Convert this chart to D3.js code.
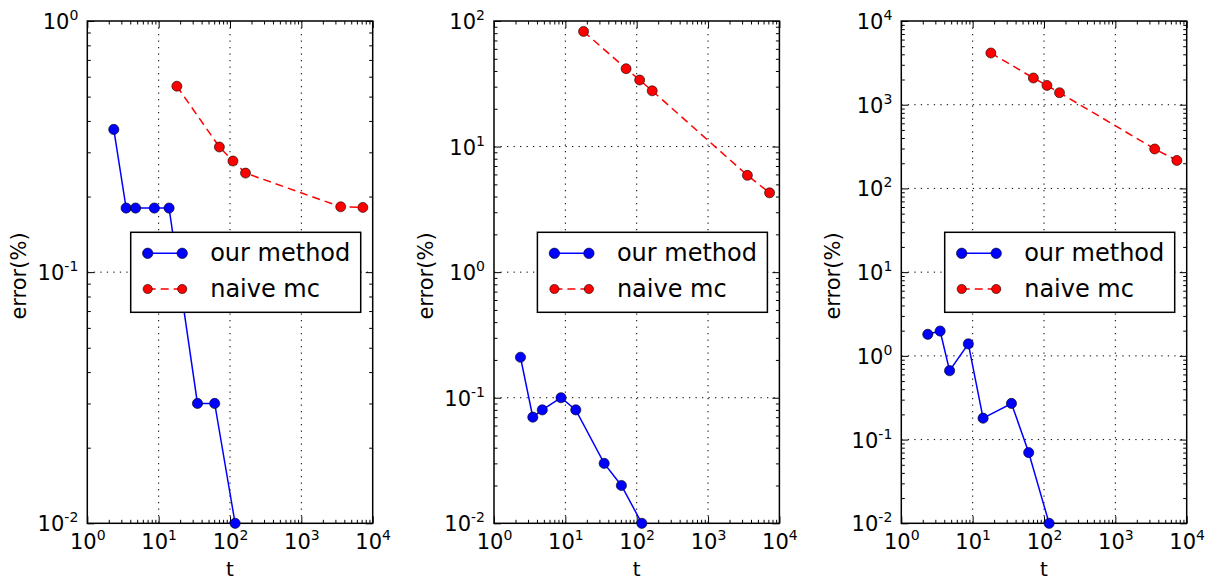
<!DOCTYPE html>
<html>
<head>
<meta charset="utf-8">
<script src="https://cdn.jsdelivr.net/npm/d3@7"></script>
<style>
  html, body { margin: 0; padding: 0; background: #fff; }
  svg { display: block; }
  text { font-family: "DejaVu Sans", sans-serif; fill: #000; }
</style>
</head>
<body>
<svg id="chart" width="1209" height="582"></svg>
<script>
// ---- data ----
const tOurs  = [2.35, 3.5, 4.75, 8.7, 14, 35, 61, 118];
const tNaive = [18, 71, 110, 165, 3560, 7280];

const oursP1  = [0.37, 0.18, 0.18, 0.18, 0.18, 0.03, 0.03, 0.01];
const naiveP1 = [0.55, 0.315, 0.277, 0.248, 0.182, 0.181];

const oursP2  = [0.21, 0.07, 0.08, 0.10, 0.08, 0.03, 0.02, 0.01];
const naiveP2 = [82.6, 41.7, 33.9, 27.8, 5.9, 4.28];

const oursP3  = [1.81, 1.98, 0.665, 1.39, 0.18, 0.27, 0.07, 0.01];
const naiveP3 = [4150, 2085, 1700, 1390, 296, 216];

const xTickExps = [0, 1, 2, 3, 4];
const yTickExpsP1 = [-2, -1, 0];
const yTickExpsP2 = [-2, -1, 0, 1, 2];
const yTickExpsP3 = [-2, -1, 0, 1, 2, 3, 4];

const seriesNames = ["our method", "naive mc"];
const xLabel = "t";
const yLabel = "error(%)";

const panels = [
  { left: 87.3,  ours: oursP1, naive: naiveP1, yExps: yTickExpsP1 },
  { left: 494,   ours: oursP2, naive: naiveP2, yExps: yTickExpsP2 },
  { left: 901.3, ours: oursP3, naive: naiveP3, yExps: yTickExpsP3 }
];

// ---- layout ----
const W = 285.4, plotTop = 21, plotBottom = 523.3;
const svg = d3.select("#chart");

function minorVals(e0, e1) {
  const v = [];
  for (let e = e0; e < e1; e++) for (let k = 2; k <= 9; k++) v.push(k * Math.pow(10, e));
  return v;
}

function powLabel(sel) {
  sel.each(function(d) {
    const t = d3.select(this);
    const e = Math.round(Math.log10(d));
    t.text(null);
    t.append("tspan").text("10");
    t.append("tspan").attr("font-size", 14).attr("dy", -9).text(String(e));
  });
}

panels.forEach((p, i) => {
  const g = svg.append("g");
  const x = d3.scaleLog().domain([1, 1e4]).range([p.left, p.left + W]);
  const yE0 = p.yExps[0], yE1 = p.yExps[p.yExps.length - 1];
  const y = d3.scaleLog().domain([Math.pow(10, yE0), Math.pow(10, yE1)]).range([plotBottom, plotTop]);

  const xMajor = xTickExps.map(e => Math.pow(10, e));
  const yMajor = p.yExps.map(e => Math.pow(10, e));
  const xMinor = minorVals(0, 4);
  const yMinor = minorVals(yE0, yE1);

  // grid
  const grid = g.append("g").attr("stroke", "#000").attr("stroke-width", 1)
    .attr("stroke-dasharray", "1.3,5.2").attr("fill", "none");
  grid.selectAll(".gx").data(xMajor.slice(1, -1)).join("line")
    .attr("x1", d => x(d)).attr("x2", d => x(d)).attr("y1", plotTop).attr("y2", plotBottom);
  grid.selectAll(".gy").data(yMajor.slice(1, -1)).join("line")
    .attr("y1", d => y(d)).attr("y2", d => y(d)).attr("x1", p.left).attr("x2", p.left + W);

  // axes (ticks inward)
  function styleAxis(ax) {
    ax.select(".domain").remove();
    ax.selectAll(".tick line").attr("stroke", "#000").attr("stroke-width", 1);
  }
  const majLen = 7, minLen = 3.5;
  const axB = g.append("g").attr("transform", `translate(0,${plotBottom})`)
    .call(d3.axisBottom(x).tickValues(xMajor).tickSizeInner(-majLen).tickSizeOuter(0).tickPadding(0));
  styleAxis(axB);
  axB.attr("font-family", null).attr("font-size", null);
  axB.selectAll(".tick text").attr("font-size", 21).attr("y", 26).attr("dy", null)
    .attr("text-anchor", "middle").call(powLabel);
  g.append("g").attr("transform", `translate(0,${plotBottom})`)
    .call(d3.axisBottom(x).tickValues(xMinor).tickSizeInner(-minLen).tickSizeOuter(0).tickFormat(""))
    .call(styleAxis);
  g.append("g").attr("transform", `translate(0,${plotTop})`)
    .call(d3.axisTop(x).tickValues(xMajor).tickSizeInner(-majLen).tickSizeOuter(0).tickFormat(""))
    .call(styleAxis);
  g.append("g").attr("transform", `translate(0,${plotTop})`)
    .call(d3.axisTop(x).tickValues(xMinor).tickSizeInner(-minLen).tickSizeOuter(0).tickFormat(""))
    .call(styleAxis);

  const axL = g.append("g").attr("transform", `translate(${p.left},0)`)
    .call(d3.axisLeft(y).tickValues(yMajor).tickSizeInner(-majLen).tickSizeOuter(0).tickPadding(0));
  styleAxis(axL);
  axL.attr("font-family", null).attr("font-size", null);
  axL.selectAll(".tick text").attr("font-size", 21).attr("x", -9).attr("dy", null).attr("y", 7.5)
    .attr("text-anchor", "end").call(powLabel);
  g.append("g").attr("transform", `translate(${p.left},0)`)
    .call(d3.axisLeft(y).tickValues(yMinor).tickSizeInner(-minLen).tickSizeOuter(0).tickFormat(""))
    .call(styleAxis);
  g.append("g").attr("transform", `translate(${p.left + W},0)`)
    .call(d3.axisRight(y).tickValues(yMajor).tickSizeInner(-majLen).tickSizeOuter(0).tickFormat(""))
    .call(styleAxis);
  g.append("g").attr("transform", `translate(${p.left + W},0)`)
    .call(d3.axisRight(y).tickValues(yMinor).tickSizeInner(-minLen).tickSizeOuter(0).tickFormat(""))
    .call(styleAxis);

  // frame
  g.append("rect").attr("x", p.left).attr("y", plotTop).attr("width", W).attr("height", plotBottom - plotTop)
    .attr("fill", "none").attr("stroke", "#000").attr("stroke-width", 1.5);

  // series
  const line = d3.line().x(d => x(d[0])).y(d => y(d[1]));
  const ours = tOurs.map((t, k) => [t, p.ours[k]]);
  const naive = tNaive.map((t, k) => [t, p.naive[k]]);

  g.append("path").datum(naive).attr("d", line).attr("fill", "none")
    .attr("stroke", "#ff0000").attr("stroke-width", 1.5).attr("stroke-dasharray", "8,5");
  g.selectAll(".pn").data(naive).join("circle")
    .attr("cx", d => x(d[0])).attr("cy", d => y(d[1])).attr("r", 5)
    .attr("fill", "#ff0000").attr("stroke", "#000").attr("stroke-width", 0.6);

  g.append("path").datum(ours).attr("d", line).attr("fill", "none")
    .attr("stroke", "#0000ff").attr("stroke-width", 1.5);
  g.selectAll(".po").data(ours).join("circle")
    .attr("cx", d => x(d[0])).attr("cy", d => y(d[1])).attr("r", 5.1)
    .attr("fill", "#0000ff").attr("stroke", "#000").attr("stroke-width", 0.6);

  // axis labels
  g.append("text").attr("x", p.left + W / 2).attr("y", 576).attr("text-anchor", "middle")
    .attr("font-size", 20).text(xLabel);
  g.append("text").attr("transform", `translate(${p.left - 61},276) rotate(-90)`)
    .attr("text-anchor", "middle").attr("font-size", 21).text(yLabel);

  // legend
  const lx = p.left + W - 12 - 230, ly = 232.3;
  const lg = g.append("g");
  lg.append("rect").attr("x", lx).attr("y", ly).attr("width", 230).attr("height", 80)
    .attr("fill", "#fff").attr("stroke", "#000").attr("stroke-width", 1.5);
  const rows = [
    { name: seriesNames[0], color: "#0000ff", dash: null, r: 5.2, cy: ly + 21 },
    { name: seriesNames[1], color: "#ff0000", dash: "8,5", r: 4.6, cy: ly + 56.7 }
  ];
  rows.forEach(rw => {
    lg.append("line").attr("x1", lx + 17).attr("x2", lx + 51.5).attr("y1", rw.cy).attr("y2", rw.cy)
      .attr("stroke", rw.color).attr("stroke-width", 1.5).attr("stroke-dasharray", rw.dash);
    [lx + 17, lx + 51.5].forEach(cx => lg.append("circle").attr("cx", cx).attr("cy", rw.cy).attr("r", rw.r)
      .attr("fill", rw.color).attr("stroke", "#000").attr("stroke-width", 0.6));
    lg.append("text").attr("x", lx + 79.5).attr("y", rw.cy + 7.8).attr("font-size", 24).text(rw.name);
  });
});
</script>
</body>
</html>
